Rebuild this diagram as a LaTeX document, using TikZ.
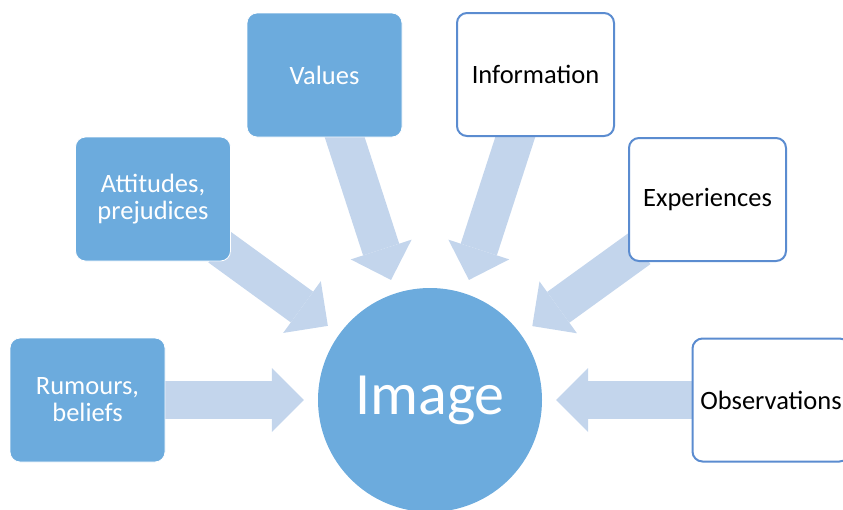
\documentclass[tikz,border=0pt]{standalone}
\usepackage{fontspec}
\setmainfont{Carlito}
\usetikzlibrary{arrows.meta,backgrounds}
\definecolor{boxblue}{RGB}{108,171,221}
\definecolor{lineblue}{RGB}{91,140,208}
\definecolor{flowblue}{RGB}{195,213,236}

\begin{document}
\begin{tikzpicture}[x=1pt,y=-1pt,
filled/.style = {rectangle, rounded corners=10pt, draw=white, thick, fill=boxblue, text=white,
                 minimum width=155pt, minimum height=124pt, align=center,
                 font=\fontsize{26.5}{27}\selectfont},
outlined/.style = {rectangle, rounded corners=10pt, draw=lineblue, line width=2pt, fill=white,
                   minimum width=157pt, minimum height=123pt, align=center,
                   font=\fontsize{26.5}{27}\selectfont},
hub/.style = {circle, fill=boxblue, text=white, minimum size=224pt, inner sep=0pt,
              font=\fontsize{60}{70}\selectfont},
flow/.style = {draw=flowblue, line width=38pt, shorten >=14pt, shorten <=-14pt,
               -{Triangle[width=64pt,length=32pt,line width=0pt]}}]

\clip (0,0) rectangle (843,509);

% centre
\node [hub] (image) at (430,400) {Image};

% left side
\node [filled] (rumours) at (87.5,400) {Rumours,\\beliefs};
\node [filled] (attitudes) at (153,199) {Attitudes,\\prejudices};
\node [filled] (values) at (324.5,75) {Values};

% right side
\node [outlined] (information) at (535.5,74.5) {Information};
\node [outlined] (experiences) at (707.5,199.5) {Experiences};
\node [outlined] (observations) at (771,400) {Observations};

\begin{scope}[on background layer, every path/.style=flow]
\path (rumours) -- (image);
\path (attitudes) -- (image);
\path (values) -- (image);
\path (information) -- (image);
\path (experiences) -- (image);
\path (observations) -- (image);
\end{scope}
\end{tikzpicture}
\end{document}
